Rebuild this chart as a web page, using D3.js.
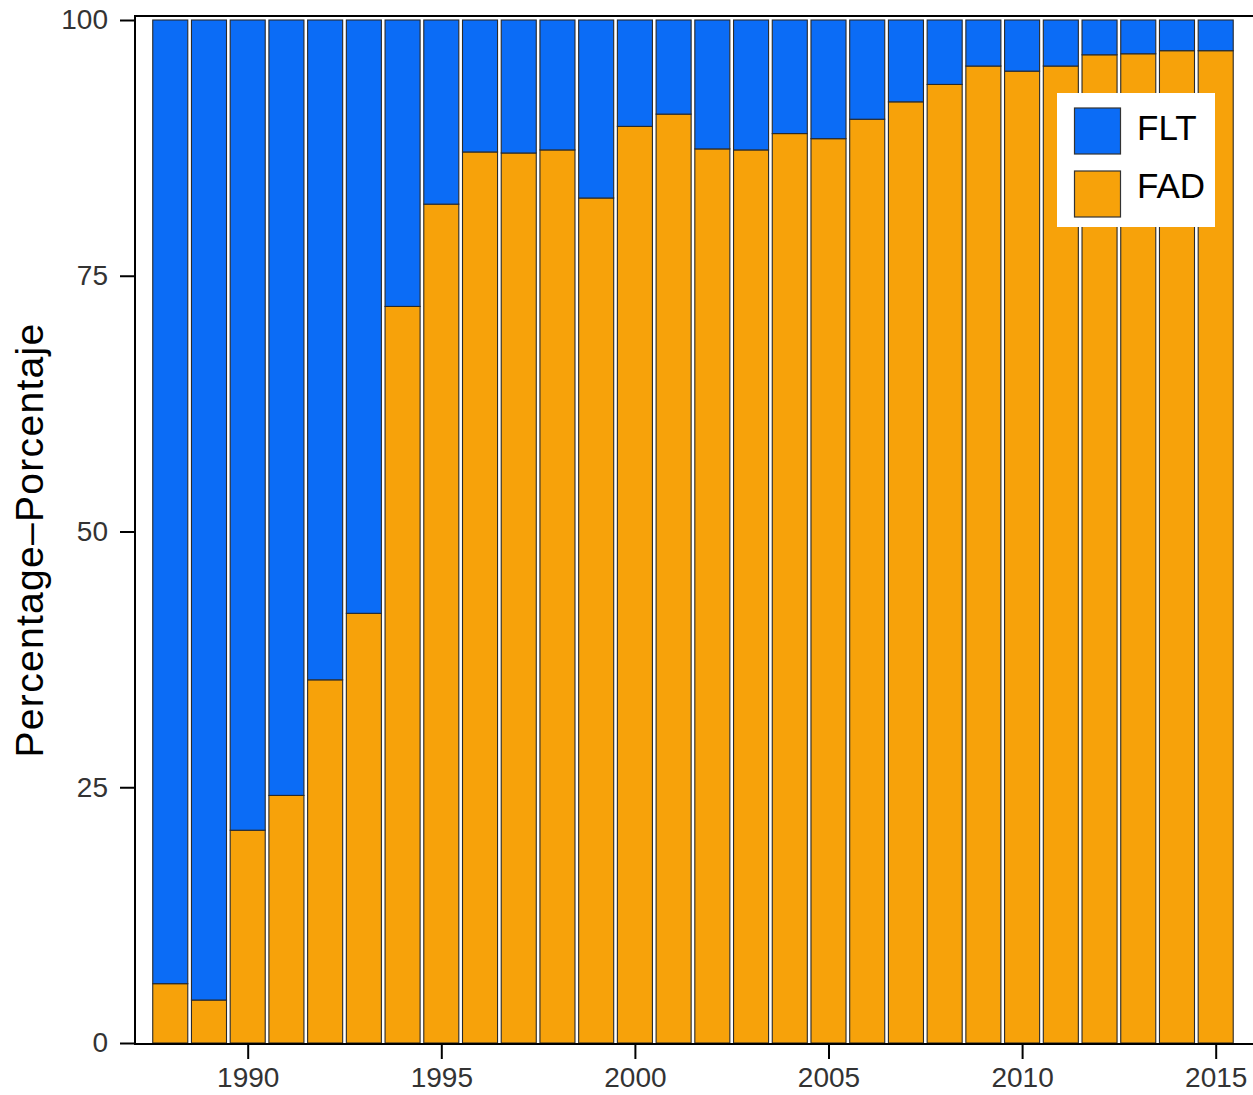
<!DOCTYPE html>
<html>
<head>
<meta charset="utf-8">
<script src="https://cdn.jsdelivr.net/npm/d3@7"></script>
<style>
  html, body { margin: 0; padding: 0; background: #fff; }
  svg { display: block; }
</style>
</head>
<body>
<svg id="chart" width="1253" height="1095"></svg>
<script>
const years = [1988,1989,1990,1991,1992,1993,1994,1995,1996,1997,1998,1999,2000,2001,2002,2003,2004,2005,2006,2007,2008,2009,2010,2011,2012,2013,2014,2015];
const fad = [5.8,4.2,20.8,24.2,35.5,42.0,72.0,82.0,87.1,87.0,87.3,82.6,89.6,90.8,87.4,87.3,88.9,88.4,90.3,92.0,93.7,95.5,95.0,95.5,96.6,96.7,97.0,97.0];
const flt = fad.map(v => 100 - v);
const seriesNames = ["FLT", "FAD"];
const seriesColors = ["#0B6CF6", "#F7A20A"];
const yTicks = [0, 25, 50, 75, 100];
const xTicks = [1990, 1995, 2000, 2005, 2010, 2015];
const yLabel = "Percentage\u2013Porcentaje";

const svg = d3.select("#chart");
const plot = { left: 135, right: 1256, top: 16, bottom: 1044 };

const x = d3.scaleLinear().domain([1990, 2015]).range([247.7, 1215.7]);
const y = d3.scaleLinear().domain([0, 100]).range([1043, 20]);
const barW = (x(1991) - x(1990)) * 0.905;

const rows = years.map((yr, i) => ({ year: yr, FAD: fad[i], FLT: flt[i] }));
const stacked = d3.stack().keys(["FAD", "FLT"])(rows);
const colorOf = { FLT: seriesColors[0], FAD: seriesColors[1] };

const g = svg.append("g");
stacked.forEach(layer => {
  g.selectAll(null).data(layer).enter().append("rect")
    .attr("x", d => x(d.data.year) - barW / 2)
    .attr("y", d => y(d[1]))
    .attr("width", barW)
    .attr("height", d => y(d[0]) - y(d[1]))
    .attr("fill", colorOf[layer.key])
    .attr("stroke", "#2a2a2a")
    .attr("stroke-width", 1.1);
});

// panel border
svg.append("rect")
  .attr("x", plot.left).attr("y", plot.top)
  .attr("width", plot.right - plot.left).attr("height", plot.bottom - plot.top)
  .attr("fill", "none").attr("stroke", "#000").attr("stroke-width", 2);

const font = "Liberation Sans, Arial, sans-serif";

// y axis
const yAxis = d3.axisLeft(y).tickValues(yTicks).tickSize(15).tickPadding(12).tickFormat(d3.format("d"));
const ya = svg.append("g").attr("transform", `translate(${plot.left},0)`).call(yAxis);
ya.select(".domain").remove();
ya.selectAll(".tick line").attr("stroke", "#000").attr("stroke-width", 2);
ya.selectAll(".tick text").attr("fill", "#333").style("font-family", font).style("font-size", "28px");

// x axis
const xAxis = d3.axisBottom(x).tickValues(xTicks).tickSize(15).tickPadding(8).tickFormat(d3.format("d"));
const xa = svg.append("g").attr("transform", `translate(0,${plot.bottom})`).call(xAxis);
xa.select(".domain").remove();
xa.selectAll(".tick line").attr("stroke", "#000").attr("stroke-width", 2);
xa.selectAll(".tick text").attr("fill", "#333").style("font-family", font).style("font-size", "28px");

// y label
svg.append("text")
  .attr("transform", `translate(43,${(plot.top + plot.bottom) / 2 + 10}) rotate(-90)`)
  .attr("text-anchor", "middle")
  .style("font-family", font)
  .style("font-size", "39px")
  .style("letter-spacing", "1.3px")
  .attr("fill", "#000")
  .text(yLabel);

// legend
const lg = svg.append("g");
lg.append("rect").attr("x", 1057).attr("y", 93).attr("width", 158).attr("height", 134).attr("fill", "#fff");
seriesNames.forEach((name, i) => {
  const yy = 108 + i * 63;
  lg.append("rect").attr("x", 1074.5).attr("y", yy).attr("width", 46).attr("height", 46)
    .attr("fill", seriesColors[i]).attr("stroke", "#333").attr("stroke-width", 1.2);
  lg.append("text").attr("x", 1137).attr("y", 140 + i * 58)
    .style("font-family", font)
    .style("font-size", "35px").attr("fill", "#000").text(name);
});
</script>
</body>
</html>
